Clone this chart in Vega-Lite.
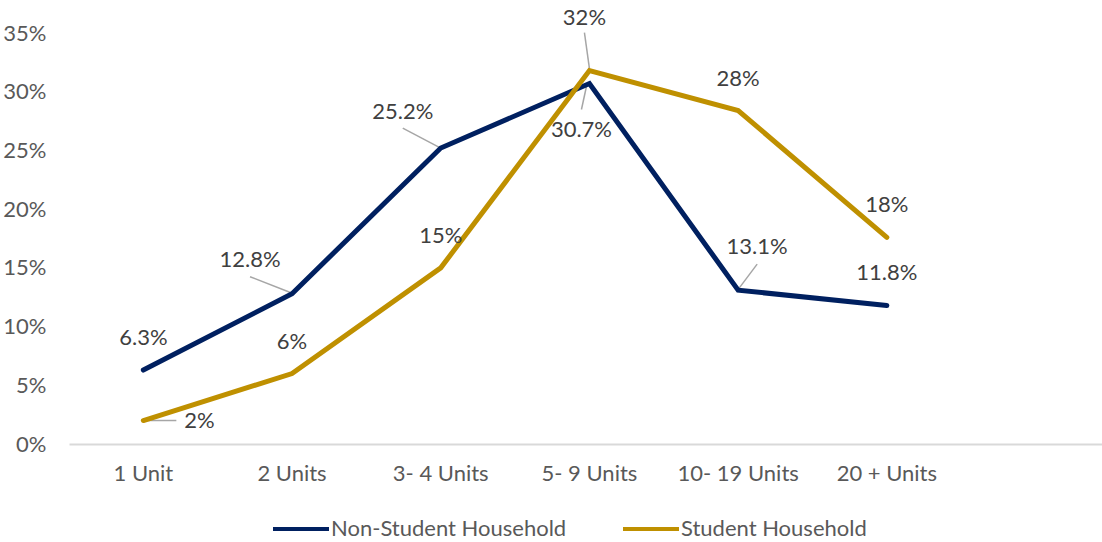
{
  "$schema": "https://vega.github.io/schema/vega-lite/v6.json",
  "width": 1033,
  "height": 411,
  "autosize": {"type": "none"},
  "padding": {"left": 69, "top": 33, "right": 0, "bottom": 98},
  "config": {
    "view": {"stroke": null},
    "font": "Lato",
    "text": {"font": "Lato"}
  },
  "data": {
    "values": [
      {"unit": "1 Unit", "series": "Non-Student Household", "value": 0.063},
      {"unit": "2 Units", "series": "Non-Student Household", "value": 0.128},
      {"unit": "3- 4 Units", "series": "Non-Student Household", "value": 0.252},
      {"unit": "5- 9 Units", "series": "Non-Student Household", "value": 0.307},
      {"unit": "10- 19 Units", "series": "Non-Student Household", "value": 0.131},
      {"unit": "20 + Units", "series": "Non-Student Household", "value": 0.118},
      {"unit": "1 Unit", "series": "Student Household", "value": 0.020},
      {"unit": "2 Units", "series": "Student Household", "value": 0.060},
      {"unit": "3- 4 Units", "series": "Student Household", "value": 0.150},
      {"unit": "5- 9 Units", "series": "Student Household", "value": 0.318},
      {"unit": "10- 19 Units", "series": "Student Household", "value": 0.284},
      {"unit": "20 + Units", "series": "Student Household", "value": 0.176}
    ]
  },
  "encoding": {
    "x": {
      "field": "unit",
      "type": "nominal",
      "sort": ["1 Unit", "2 Units", "3- 4 Units", "5- 9 Units", "10- 19 Units", "20 + Units"],
      "scale": {"paddingInner": 0, "paddingOuter": 0.4735, "align": 0},
      "axis": {
        "title": null,
        "labelAngle": 0,
        "labelFontSize": 22,
        "labelColor": "#595959",
        "labelPadding": 19,
        "ticks": false,
        "domainColor": "#d9d9d9",
        "domainWidth": 2,
        "grid": false
      }
    },
    "y": {
      "field": "value",
      "type": "quantitative",
      "scale": {"domain": [0, 0.35], "nice": false},
      "axis": {
        "title": null,
        "values": [0, 0.05, 0.1, 0.15, 0.2, 0.25, 0.3, 0.35],
        "format": ".0%",
        "labelFontSize": 22,
        "labelColor": "#595959",
        "labelPadding": 23,
        "domain": false,
        "ticks": false,
        "grid": false
      }
    }
  },
  "layer": [
    {
      "transform": [{"filter": "datum.series === 'Student Household' && datum.unit === '1 Unit'"}],
      "mark": {"type": "rule", "color": "#a6a6a6", "strokeWidth": 1.5, "xOffset": 2, "yOffset": 0, "x2Offset": 33, "y2Offset": 0},
      "encoding": {"x2": {"field": "unit"}, "y2": {"field": "value"}}
    },
    {
      "transform": [{"filter": "datum.series === 'Non-Student Household' && datum.unit === '2 Units'"}],
      "mark": {"type": "rule", "color": "#a6a6a6", "strokeWidth": 1.5, "xOffset": -42, "yOffset": -17, "x2Offset": -1, "y2Offset": -1},
      "encoding": {"x2": {"field": "unit"}, "y2": {"field": "value"}}
    },
    {
      "transform": [{"filter": "datum.series === 'Non-Student Household' && datum.unit === '3- 4 Units'"}],
      "mark": {"type": "rule", "color": "#a6a6a6", "strokeWidth": 1.5, "xOffset": -38, "yOffset": -20, "x2Offset": 0, "y2Offset": 0},
      "encoding": {"x2": {"field": "unit"}, "y2": {"field": "value"}}
    },
    {
      "transform": [{"filter": "datum.series === 'Student Household' && datum.unit === '5- 9 Units'"}],
      "mark": {"type": "rule", "color": "#a6a6a6", "strokeWidth": 1.5, "xOffset": -5, "yOffset": -38, "x2Offset": 0, "y2Offset": -2},
      "encoding": {"x2": {"field": "unit"}, "y2": {"field": "value"}}
    },
    {
      "transform": [{"filter": "datum.series === 'Non-Student Household' && datum.unit === '5- 9 Units'"}],
      "mark": {"type": "rule", "color": "#a6a6a6", "strokeWidth": 1.5, "xOffset": -8, "yOffset": 26, "x2Offset": -3, "y2Offset": 3},
      "encoding": {"x2": {"field": "unit"}, "y2": {"field": "value"}}
    },
    {
      "transform": [{"filter": "datum.series === 'Non-Student Household' && datum.unit === '10- 19 Units'"}],
      "mark": {"type": "rule", "color": "#a6a6a6", "strokeWidth": 1.5, "xOffset": 19, "yOffset": -26, "x2Offset": 1, "y2Offset": -2},
      "encoding": {"x2": {"field": "unit"}, "y2": {"field": "value"}}
    },
    {
      "mark": {"type": "line", "strokeWidth": 5, "strokeCap": "round", "strokeJoin": "miter"},
      "encoding": {
        "color": {
          "field": "series",
          "type": "nominal",
          "scale": {"domain": ["Non-Student Household", "Student Household"], "range": ["#002060", "#BF9000"]},
          "legend": {
            "title": null,
            "orient": "none",
            "direction": "horizontal",
            "legendX": 202,
            "legendY": 466,
            "symbolType": "stroke",
            "symbolSize": 3136,
            "symbolStrokeWidth": 4,
            "labelFontSize": 22,
            "labelColor": "#595959",
            "labelOffset": 0,
            "labelLimit": 0,
            "columnPadding": 48,
            "padding": 0
          }
        }
      }
    },
    {
      "transform": [{"filter": "datum.series === 'Non-Student Household' && (datum.unit === '1 Unit' || datum.unit === '20 + Units')"}],
      "mark": {"type": "text", "fontSize": 22, "color": "#404040", "dy": -32, "baseline": "middle", "align": "center"},
      "encoding": {"text": {"field": "value", "format": ".1%"}}
    },
    {
      "transform": [{"filter": "datum.series === 'Student Household' && datum.unit !== '1 Unit' && datum.unit !== '5- 9 Units'"}],
      "mark": {"type": "text", "fontSize": 22, "color": "#404040", "dy": -32, "baseline": "middle", "align": "center"},
      "encoding": {"text": {"field": "value", "format": ".0%"}}
    },
    {
      "transform": [{"filter": "datum.series === 'Non-Student Household' && datum.unit === '2 Units'"}],
      "mark": {"type": "text", "fontSize": 22, "color": "#404040", "dx": -42, "dy": -34, "baseline": "middle", "align": "center"},
      "encoding": {"text": {"field": "value", "format": ".1%"}}
    },
    {
      "transform": [{"filter": "datum.series === 'Non-Student Household' && datum.unit === '3- 4 Units'"}],
      "mark": {"type": "text", "fontSize": 22, "color": "#404040", "dx": -38, "dy": -36, "baseline": "middle", "align": "center"},
      "encoding": {"text": {"field": "value", "format": ".1%"}}
    },
    {
      "transform": [{"filter": "datum.series === 'Non-Student Household' && datum.unit === '5- 9 Units'"}],
      "mark": {"type": "text", "fontSize": 22, "color": "#404040", "dx": -8, "dy": 47, "baseline": "middle", "align": "center"},
      "encoding": {"text": {"field": "value", "format": ".1%"}}
    },
    {
      "transform": [{"filter": "datum.series === 'Non-Student Household' && datum.unit === '10- 19 Units'"}],
      "mark": {"type": "text", "fontSize": 22, "color": "#404040", "dx": 19, "dy": -43, "baseline": "middle", "align": "center"},
      "encoding": {"text": {"field": "value", "format": ".1%"}}
    },
    {
      "transform": [{"filter": "datum.series === 'Student Household' && datum.unit === '1 Unit'"}],
      "mark": {"type": "text", "fontSize": 22, "color": "#404040", "dx": 56, "dy": 0, "baseline": "middle", "align": "center"},
      "encoding": {"text": {"field": "value", "format": ".0%"}}
    },
    {
      "transform": [{"filter": "datum.series === 'Student Household' && datum.unit === '5- 9 Units'"}],
      "mark": {"type": "text", "fontSize": 22, "color": "#404040", "dx": -5, "dy": -53, "baseline": "middle", "align": "center"},
      "encoding": {"text": {"field": "value", "format": ".0%"}}
    }
  ]
}
